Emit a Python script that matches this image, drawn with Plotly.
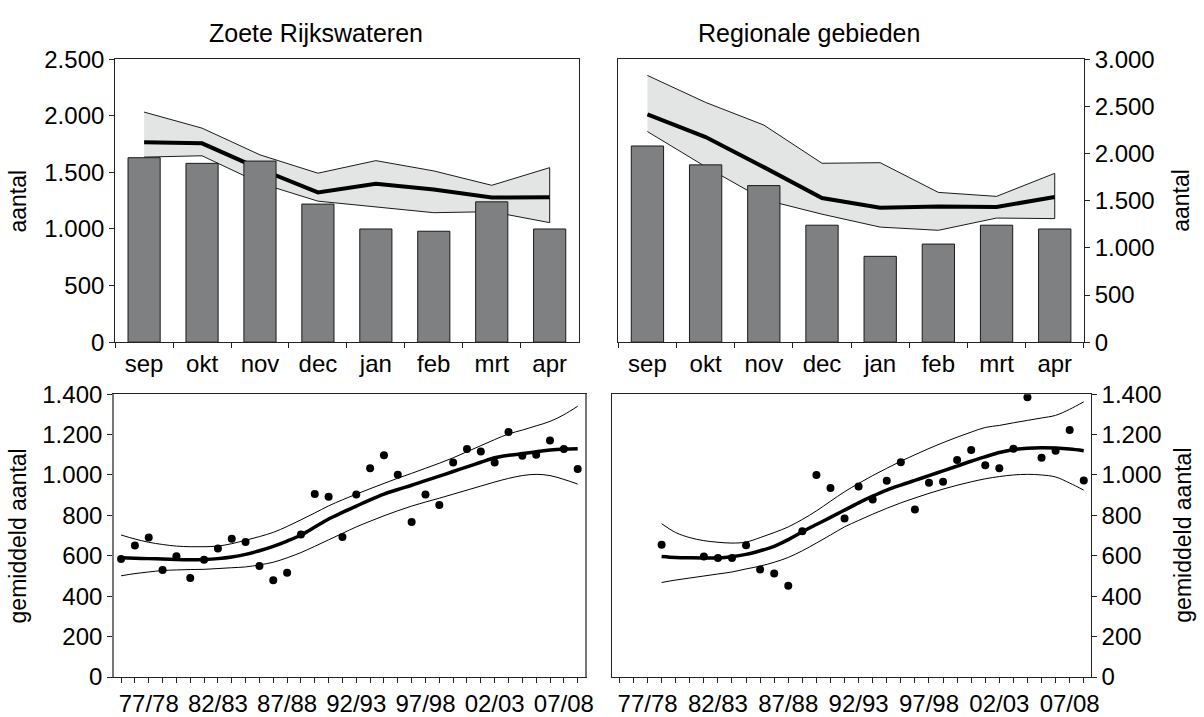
import plotly.graph_objects as go

# ---------------- data ----------------
months = ["sep", "okt", "nov", "dec", "jan", "feb", "mrt", "apr"]

zoet_bars = [1630, 1580, 1600, 1220, 1000, 980, 1240, 1000]
zoet_mean = [1766, 1757, 1530, 1323, 1400, 1349, 1278, 1280]
zoet_upper = [2033, 1891, 1655, 1493, 1604, 1513, 1386, 1542]
zoet_lower = [1635, 1647, 1405, 1246, 1195, 1144, 1153, 1056]

regio_bars = [2080, 1880, 1660, 1240, 910, 1040, 1240, 1200]
regio_mean = [2415, 2175, 1856, 1529, 1426, 1439, 1433, 1540]
regio_upper = [2828, 2542, 2302, 1897, 1903, 1588, 1546, 1790]
regio_lower = [2233, 1860, 1512, 1357, 1220, 1186, 1316, 1310]

seasons = ["75/76", "76/77", "77/78", "78/79", "79/80", "80/81", "81/82", "82/83",
           "83/84", "84/85", "85/86", "86/87", "87/88", "88/89", "89/90", "90/91",
           "91/92", "92/93", "93/94", "94/95", "95/96", "96/97", "97/98", "98/99",
           "99/00", "00/01", "01/02", "02/03", "03/04", "04/05", "05/06", "06/07",
           "07/08", "08/09"]
season_labels = ["77/78", "82/83", "87/88", "92/93", "97/98", "02/03", "07/08"]

zoet_index = [584, 651, 690, 530, 598, 490, 581, 636, 684, 668, 549, 479, 516, 706,
              906, 892, 693, 903, 1033, 1097, 1001, 767, 903, 852, 1062, 1128, 1116,
              1062, 1212, 1095, 1100, 1171, 1129, 1030]
zoet_trend = [590, 588, 586, 584, 582, 581, 582, 586, 594, 607, 625, 647, 673, 703,
              742, 782, 815, 846, 877, 905, 928, 949, 972, 994, 1017, 1040, 1063,
              1085, 1097, 1105, 1115, 1123, 1128, 1130]
zoet_trend_hi = [703, 683, 667, 656, 648, 645, 645, 648, 660, 677, 695, 716, 745, 778,
                 812, 847, 877, 905, 932, 958, 984, 1008, 1033, 1058, 1085, 1115, 1145,
                 1175, 1203, 1222, 1243, 1265, 1298, 1340]
zoet_trend_lo = [501, 512, 520, 527, 530, 532, 533, 537, 541, 545, 555, 568, 590, 616,
                 647, 679, 711, 743, 771, 798, 823, 846, 866, 885, 905, 925, 945, 965,
                 983, 997, 1003, 997, 978, 955]

regio_index = [None, None, None, 655, None, None, 597, 589, 589, 652, 532, 512, 452, 722,
               1000, 935, 784, 943, 878, 971, 1063, 829, 962, 967, 1074, 1124, 1048,
               1033, 1130, 1385, 1085, 1120, 1222, 973]
regio_trend = [None, None, None, 597, 592, 590, 589, 589, 595, 607, 625, 647, 680, 719,
               755, 790, 826, 862, 895, 925, 950, 973, 997, 1020, 1044, 1068, 1090,
               1111, 1125, 1132, 1135, 1133, 1128, 1120]
regio_trend_hi = [None, None, None, 759, 715, 690, 675, 667, 663, 668, 690, 715, 743, 780,
                  822, 870, 917, 958, 997, 1033, 1068, 1100, 1131, 1160, 1187, 1212, 1235,
                  1245, 1258, 1270, 1282, 1295, 1325, 1362]
regio_trend_lo = [None, None, None, 468, 480, 490, 500, 510, 520, 535, 549, 568, 592, 625,
                  663, 703, 743, 775, 806, 835, 862, 886, 909, 930, 949, 966, 981, 992,
                  1000, 1003, 1000, 990, 960, 925]

# ---------------- styling ----------------
W, H = 1204, 717
FONT = "Liberation Sans, Arial, sans-serif"
TICK_FONT = dict(family=FONT, size=24, color="black")
BAR_COLOR = "#7f8082"
BAND_COLOR = "#e3e4e4"


def px_x(a, b):
    return [a / W, b / W]


def px_y(top, bottom):
    return [1 - bottom / H, 1 - top / H]


season_pos = list(range(len(seasons)))
season_text = [s if s in season_labels else "" for s in seasons]

fig = go.Figure()


def seasonal_panel(xa, ya, ya_bars, mean, upper, lower, bars):
    fig.add_trace(go.Scatter(
        x=months + months[::-1], y=upper + lower[::-1], fill="toself",
        fillcolor=BAND_COLOR, line=dict(color="#1a1a1a", width=1),
        mode="lines", hoverinfo="skip", xaxis=xa, yaxis=ya, showlegend=False))
    fig.add_trace(go.Scatter(
        x=months, y=mean, mode="lines", line=dict(color="black", width=4),
        xaxis=xa, yaxis=ya, showlegend=False))
    fig.add_trace(go.Bar(
        x=months, y=bars, width=0.555, marker=dict(color=BAR_COLOR,
                                                   line=dict(color="#1a1a1a", width=1)),
        xaxis=xa, yaxis=ya_bars, showlegend=False))


def trend_panel(xa, ya, idx, trend, hi, lo):
    for band in (hi, lo):
        fig.add_trace(go.Scatter(
            x=season_pos, y=band, mode="lines", line=dict(color="black", width=1, shape="spline"),
            xaxis=xa, yaxis=ya, showlegend=False))
    fig.add_trace(go.Scatter(
        x=season_pos, y=trend, mode="lines", line=dict(color="black", width=3.5, shape="spline"),
        xaxis=xa, yaxis=ya, showlegend=False))
    fig.add_trace(go.Scatter(
        x=season_pos, y=idx, mode="markers", marker=dict(color="black", size=8),
        xaxis=xa, yaxis=ya, showlegend=False))


seasonal_panel("x", "y", "y5", zoet_mean, zoet_upper, zoet_lower, zoet_bars)
seasonal_panel("x2", "y2", "y6", regio_mean, regio_upper, regio_lower, regio_bars)
trend_panel("x3", "y3", zoet_index, zoet_trend, zoet_trend_hi, zoet_trend_lo)
trend_panel("x4", "y4", regio_index, regio_trend, regio_trend_hi, regio_trend_lo)

common_axis = dict(showgrid=False, zeroline=False, showline=True, mirror=True,
                   linecolor="#222", linewidth=1, ticks="outside", ticklen=5,
                   tickcolor="#222", tickfont=TICK_FONT, fixedrange=True)

top_dom = px_y(47, 341)
bot_dom = px_y(395, 689)

fig.update_layout(
    width=W, height=H, margin=dict(l=0, r=0, t=0, b=0),
    paper_bgcolor="white", plot_bgcolor="white",
    separators=",.", barmode="overlay", showlegend=False,
    font=dict(family=FONT, color="black"),
    xaxis=dict(common_axis, domain=px_x(116, 583), anchor="y", type="category",
               tickson="boundaries", categoryorder="array", categoryarray=months),
    yaxis=dict(common_axis, domain=top_dom, anchor="x", range=[0, 2500], dtick=500,
               separatethousands=True),
    yaxis5=dict(overlaying="y", range=[0, 2500], visible=False, fixedrange=True),
    xaxis2=dict(common_axis, domain=px_x(623, 1092), anchor="y2", type="category",
                tickson="boundaries", categoryorder="array", categoryarray=months),
    yaxis2=dict(common_axis, domain=top_dom, anchor="x2", side="right", range=[0, 3000],
                dtick=500, separatethousands=True),
    yaxis6=dict(overlaying="y2", range=[0, 3000], visible=False, fixedrange=True),
    xaxis3=dict(common_axis, domain=px_x(115, 589), anchor="y3", range=[-0.5, 33.5],
                tickvals=season_pos, ticktext=season_text),
    yaxis3=dict(common_axis, domain=bot_dom, anchor="x3", range=[0, 1400], dtick=200,
                separatethousands=True, linecolor="#777", linewidth=2),
    xaxis4=dict(common_axis, domain=px_x(617, 1099), anchor="y4", range=[-0.5, 33.5],
                tickvals=season_pos, ticktext=season_text),
    yaxis4=dict(common_axis, domain=bot_dom, anchor="x4", side="right", range=[0, 1400],
                dtick=200, separatethousands=True),
)


def label(text, x, y, size=23, angle=0):
    fig.add_annotation(text=text, x=x / W, y=1 - y / H, xref="paper", yref="paper",
                       showarrow=False, textangle=angle, xanchor="center", yanchor="middle",
                       font=dict(family=FONT, size=size, color="black"))


label("Zoete Rijkswateren", 318, 20, size=25)
label("Regionale gebieden", 815, 20, size=25)
label("aantal", 18, 194, angle=-90)
label("gemiddeld aantal", 18, 542, angle=-90)
label("aantal", 1190, 194, angle=-90)
label("gemiddeld aantal", 1191, 542, angle=-90)

fig.write_html("out.html")
